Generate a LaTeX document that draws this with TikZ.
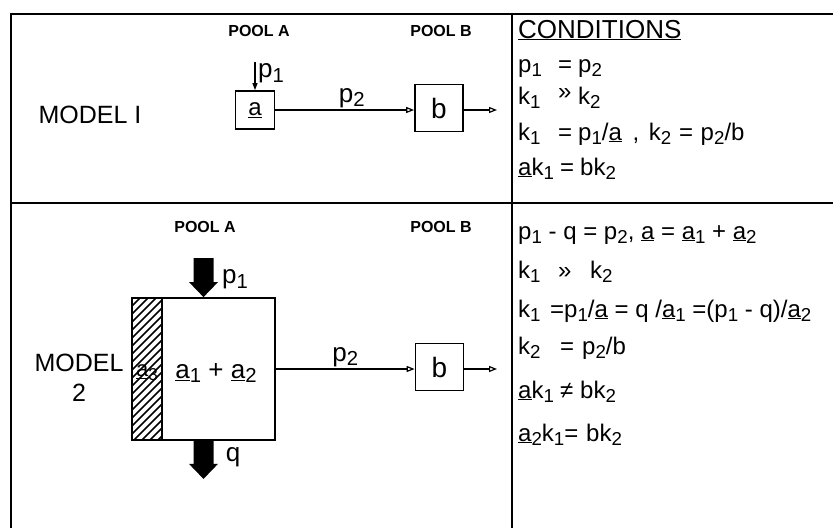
\documentclass[tikz,border=0pt]{standalone}
\usepackage{fontspec}
\setmainfont{Liberation Sans}
\usetikzlibrary{arrows.meta}

\newcommand\lo[1]{\raisebox{-0.35ex}{\scalebox{0.78}{#1}}}
\newcommand\und[1]{\underline{#1}}

\tikzset{
  frameline/.style={line width=1.8pt},
  pool/.style={font=\bfseries\fontsize{16}{18}\selectfont},
  model/.style={font=\fontsize{25}{30}\selectfont, align=center},
  cpool/.style={draw, line width=1.8pt, minimum width=48pt, minimum height=47pt,
    inner sep=0pt, font=\fontsize{28}{30}\selectfont},
  lbl/.style={font=\fontsize{26}{28}\selectfont, inner sep=1pt},
  cond/.style={anchor=base west, inner sep=0pt, font=\fontsize{24}{26}\selectfont},
  flow/.style={line width=1.2pt, -{Triangle[open, length=8pt, width=6pt, line width=1.2pt]}},
  bigarrow/.pic={\fill (-10,-39) -- (10,-39) -- (10,-15) -- (14.5,-15) -- (0,0)
    -- (-14.5,-15) -- (-10,-15) -- cycle;},
}

\begin{document}
\begin{tikzpicture}[x=1pt, y=-1pt]
\useasboundingbox (0,0) rectangle (833,528);

% frame of the table
\draw[frameline] (11,528) -- (11,14) -- (833,14);
\draw[frameline] (11,203) -- (833,203);
\draw[frameline] (512,14) -- (512,528);

% model 1
\node[model, anchor=west] (m1) at (35,115) {MODEL I};
\node[pool] (pa1) at (259,31) {POOL A};
\node[pool] (pb1) at (441,31) {POOL B};
\node[cpool, minimum width=39pt, minimum height=38pt, font=\fontsize{24}{26}\selectfont] (a1) at (255,110) {\und{a}};
\node[cpool] (b1) at (439,108) {b};
\coordinate (in1) at (255,62);
\coordinate (out1) at (497,110);
\draw[line width=1.2pt, -{Triangle[length=7pt, width=5pt]}] (in1) -- (a1);
\node[lbl, anchor=west] (p11) at (257,73) {p\lo{1}};
\draw[flow] (a1.east) -- (a1.east -| b1.west) node[lbl, pos=0.55, above=1pt] (p21) {p\lo{2}};
\draw[flow] (b1.east |- out1) -- (out1);

% model 2
\node[model] (m2) at (79,378) {MODEL\\2};
\node[pool] (pa2) at (205,227) {POOL A};
\node[pool] (pb2) at (441,227) {POOL B};
\begin{scope}
  \clip (132,298) rectangle (162,440);
  \foreach \s in {0,8,...,190}
    \draw[line width=1.5pt] (132,{298+\s}) -- ++(40,-40);
\end{scope}
\node[draw, line width=1.8pt, minimum width=143pt, minimum height=142pt,
  inner sep=0pt] (a2) at (203.5,369) {};
\draw[line width=1.8pt] (162,298) -- (162,440);
\node[lbl, font=\fontsize{22}{24}\selectfont] (a3) at (147,373) {\und{a}\lo{3}};
\node[lbl] (a12) at (216,373) {\und{a}\lo{1} + \und{a}\lo{2}};
\pic at (a2.north) {bigarrow};
\pic at ([yshift=-38pt]a2.south) {bigarrow};
\node[lbl] (p12) at (235,279) {p\lo{1}};
\node[lbl] (q2) at (233,457) {q};
\node[cpool] (b2) at (439.5,367) {b};
\coordinate (out2) at (497,369);
\draw[flow] (a2.east) -- (a2.east -| b2.west) node[lbl, pos=0.5, above=1pt] (p22) {p\lo{2}};
\draw[flow] (b2.east |- out2) -- (out2);

% conditions, model 1
\node[cond, font=\fontsize{26}{28}\selectfont] (c0) at (518,38) {\und{CONDITIONS}};
\node[cond] (c1) at (518,72) {\makebox[40pt][l]{p\lo{1}}\makebox[20pt][l]{=}p\lo{2}};
\node[cond] (c2) at (518,104) {\makebox[40pt][l]{k\lo{1}}\makebox[20pt][l]{\raisebox{5pt}{»}}k\lo{2}};
\node[cond] (c3) at (518,140) {\makebox[40pt][l]{k\lo{1}}\makebox[20pt][l]{=}p\lo{1}/\und{a}\hspace{4pt} ,\hspace{3pt} k\lo{2} \hspace{1pt}=\hspace{1pt} p\lo{2}/b};
\node[cond] (c4) at (518,175) {\makebox[42pt][l]{\und{a}k\lo{1}}\makebox[20pt][l]{=}bk\lo{2}};

% conditions, model 2
\node[cond] (d1) at (518,239) {p\lo{1} - q = p\lo{2}, \und{a} = \und{a}\lo{1} + \und{a}\lo{2}};
\node[cond] (d2) at (518,278) {\makebox[40pt][l]{k\lo{1}}\makebox[32pt][l]{»}k\lo{2}};
\node[cond] (d3) at (518,317) {\makebox[32pt][l]{k\lo{1}}=p\lo{1}/\und{a} = q /\und{a}\lo{1} =(p\lo{1} - q)/\und{a}\lo{2}};
\node[cond] (d4) at (518,354) {\makebox[42pt][l]{k\lo{2}}\makebox[22pt][l]{=}p\lo{2}/b};
\node[cond] (d5) at (518,398) {\makebox[42pt][l]{\und{a}k\lo{1}}\makebox[20pt][l]{≠}bk\lo{2}};
\node[cond] (d6) at (518,441) {\makebox[68pt][l]{\und{a}\lo{2}k\lo{1}=}bk\lo{2}};
\end{tikzpicture}
\end{document}
